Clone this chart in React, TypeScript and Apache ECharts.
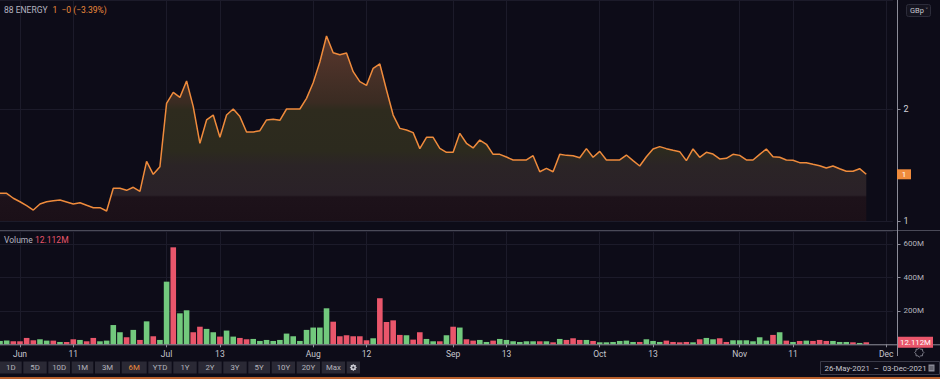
import React, { useEffect, useRef } from "react";
import * as echarts from "echarts";

const W = 940;
const H = 379;

// ---- calendar (UK trading days) ----
const START = "2021-05-26";
const END = "2021-12-02";
const HOLIDAYS = ["2021-05-31", "2021-08-30"];

function tradingDays(): string[] {
  const out: string[] = [];
  const d = new Date(START + "T00:00:00Z");
  const end = new Date(END + "T00:00:00Z");
  while (d <= end) {
    const wd = d.getUTCDay();
    const s = d.toISOString().slice(0, 10);
    if (wd !== 0 && wd !== 6 && !HOLIDAYS.includes(s)) out.push(s);
    d.setUTCDate(d.getUTCDate() + 1);
  }
  return out;
}
const categories = tradingDays();

const tickDates = [
  "2021-06-01", "2021-06-11", "2021-07-01", "2021-07-13", "2021-08-02", "2021-08-12",
  "2021-09-01", "2021-09-13", "2021-10-01", "2021-10-13", "2021-11-01", "2021-11-11", "2021-12-01",
];
const tickTexts = ["Jun", "11", "Jul", "13", "Aug", "12", "Sep", "13", "Oct", "13", "Nov", "11", "Dec"];

// ---- price (GBp), from 26-May-2021 ----
const prices = [
  1.247,
  1.247, 1.203, 1.172, 1.137, 1.098, 1.152, 1.172, 1.181, 1.187, 1.170,
  1.152, 1.163, 1.140, 1.119, 1.119, 1.089, 1.292, 1.292, 1.274, 1.301,
  1.265, 1.533, 1.417, 1.485, 2.051, 2.149, 2.104, 2.250, 2.021, 1.694,
  1.902, 1.946, 1.747, 1.946, 2.000, 1.932, 1.795, 1.795, 1.806, 1.902,
  1.908, 1.899, 2.000, 2.000, 2.000, 2.095, 2.235, 2.420, 2.652, 2.503,
  2.485, 2.500, 2.333, 2.244, 2.211, 2.363, 2.402, 2.170, 1.946, 1.827,
  1.812, 1.789, 1.646, 1.747, 1.747, 1.649, 1.613, 1.613, 1.783, 1.694,
  1.652, 1.723, 1.685, 1.595, 1.595, 1.571, 1.545, 1.545, 1.545, 1.583,
  1.440, 1.470, 1.440, 1.595, 1.586, 1.583, 1.565, 1.646, 1.569, 1.622,
  1.545, 1.545, 1.545, 1.589, 1.539, 1.491, 1.574, 1.643, 1.664, 1.646,
  1.631, 1.619, 1.539, 1.643, 1.569, 1.613, 1.598, 1.554, 1.560, 1.595,
  1.586, 1.545, 1.545, 1.595, 1.643, 1.574, 1.569, 1.545, 1.542, 1.521,
  1.521, 1.506, 1.494, 1.473, 1.491, 1.467, 1.444, 1.444, 1.467, 1.417,
];

// ---- volume (millions) ----
const volumes = [
  20,
  22, 18, 18, 38, 24, 30, 22, 22, 14, 14,
  30, 26, 18, 38, 18, 22, 115, 72, 42, 86,
  26, 137, 48, 26, 374, 579, 185, 203, 72, 105,
  92, 72, 46, 82, 46, 38, 30, 32, 20, 26,
  20, 26, 64, 48, 20, 86, 100, 100, 215, 135,
  48, 54, 48, 48, 24, 36, 275, 133, 143, 56,
  54, 28, 72, 32, 18, 18, 54, 105, 100, 30,
  22, 26, 14, 22, 32, 26, 18, 14, 18, 18,
  18, 18, 12, 32, 26, 36, 26, 26, 20, 12,
  12, 14, 20, 22, 14, 14, 30, 20, 14, 22,
  14, 12, 14, 12, 30, 38, 30, 36, 14, 24,
  24, 24, 18, 42, 22, 56, 72, 22, 14, 20,
  22, 20, 26, 20, 20, 14, 14, 12, 8, 12.112,
];
// bar direction: u = up (green), d = down (red)
const dirList = [
  "u",
  "u", "d", "d", "d", "d", "u", "u", "d", "u", "d",
  "d", "u", "d", "d", "u", "u", "u", "u", "d", "u",
  "d", "u", "d", "u", "u", "d", "u", "u", "d", "d",
  "u", "u", "d", "u", "u", "d", "d", "u", "u", "u",
  "u", "u", "u", "u", "u", "u", "u", "u", "u", "d",
  "d", "d", "d", "d", "d", "u", "d", "d", "d", "d",
  "u", "d", "d", "u", "u", "d", "u", "d", "u", "d",
  "d", "u", "u", "d", "u", "u", "u", "u", "u", "u",
  "d", "u", "d", "u", "d", "d", "d", "u", "d", "u",
  "u", "u", "u", "u", "u", "d", "u", "u", "u", "d",
  "d", "d", "d", "u", "d", "u", "u", "d", "d", "u",
  "u", "u", "u", "u", "u", "d", "u", "d", "u", "d",
  "u", "d", "d", "d", "u", "u", "u", "d", "u", "d",
];

const rangeButtons = ["1D", "5D", "10D", "1M", "3M", "6M", "YTD", "1Y", "2Y", "3Y", "5Y", "10Y", "20Y", "Max"];
const activeButton = "6M";

// ---- layout / style constants ----
const BG = "#0d0c18";
const GRID_LINE = "#1c1b2a";
const AXIS_GREY = "#8c8c98";
const TEXT = "#c6c6ce";
const ORANGE = "#ef8b3c";
const GREEN = "#72c97d";
const RED = "#e9566b";
const FONT = "Roboto, 'Noto Sans', sans-serif";
const STEP = 6.669;
const FIRST_X = 5.96 - STEP;
const LAST_X = FIRST_X + STEP * (categories.length - 1);
const PRICE_TOP = 0;
const PRICE_H = 221;
const PRICE_MIN = 1;
const PRICE_MAX = 1 + 221 / 112;
const VOL_TOP = 231;
const VOL_H = 113.3;
const VOL_MAX = (VOL_H / 33.5) * 200;
const BTN_X = [0, 23.3, 48.3, 71.7, 95, 121.7, 148.3, 173.3, 198.3, 223.3, 248.3, 271.7, 296.7, 321.7];
const BTN_W = [21.7, 23.4, 21.7, 21.6, 25, 25, 23.4, 23.4, 23.4, 23.4, 21.7, 23.3, 23.3, 23.3];

const showTick = (_i: number, v: string) => tickDates.includes(v);

function gearPoints(cx: number, cy: number, r1: number, r2: number, n: number) {
  const pts: number[][] = [];
  for (let i = 0; i < n * 2; i++) {
    const a = (Math.PI * i) / n;
    const r = i % 2 === 0 ? r1 : r2;
    pts.push([cx + r * Math.cos(a), cy + r * Math.sin(a)]);
  }
  return pts;
}

function txt(id: string, x: number, y: number, text: string, fill: string, size: number, align = "left", z = 50) {
  return {
    type: "text",
    id,
    x,
    y,
    z,
    silent: true,
    style: {
      text,
      fill,
      fontSize: size,
      fontFamily: FONT,
      textAlign: align,
      align,
      textVerticalAlign: "middle",
      verticalAlign: "middle",
    },
  };
}

export default function App() {
  const ref = useRef<HTMLDivElement>(null);
  useEffect(() => {
    const el = ref.current!;
    const chart = echarts.init(el, null, { renderer: "svg", width: W, height: H });

    const areaGradient = new echarts.graphic.LinearGradient(
      0, 36, 0, 221,
      [
        { offset: 0, color: "#5a382c" },
        { offset: 0.18, color: "#4a3128" },
        { offset: 0.36, color: "#3a2b22" },
        { offset: 0.4, color: "#2e2b1e" },
        { offset: 0.62, color: "#2c2a1e" },
        { offset: 0.7, color: "#2b2426" },
        { offset: 0.86, color: "#2a2128" },
        { offset: 0.87, color: "#1d121a" },
        { offset: 1, color: "#1b1018" },
      ],
      true
    );

    const graphics: any[] = [];
    // separators
    graphics.push({ type: "line", id: "sep", z: 40, shape: { x1: 0, y1: 230.5, x2: W, y2: 230.5 }, style: { stroke: "#4a4a58", lineWidth: 1 } });
    graphics.push({ type: "line", id: "base", z: 40, shape: { x1: 0, y1: 344.8, x2: W, y2: 344.8 }, style: { stroke: AXIS_GREY, lineWidth: 1 } });
    graphics.push({ type: "line", id: "raxis", z: 40, shape: { x1: 897.5, y1: 0, x2: 897.5, y2: 356 }, style: { stroke: AXIS_GREY, lineWidth: 1 } });
    // legends
    graphics.push(txt("lg1", 4, 10, "88 ENERGY", "#b4b4c0", 8.5));
    graphics.push(txt("lg2", 52.5, 10, "1  −0 (−3.39%)", ORANGE, 8.5));
    graphics.push(txt("lg3", 4, 240, "Volume", "#b4b4c0", 8.5));
    graphics.push(txt("lg4", 35, 240, "12.112M", RED, 8.5));
    // GBp button
    graphics.push({ type: "rect", id: "gbp", z: 45, shape: { x: 906.5, y: 4.5, width: 24, height: 12, r: 2 }, style: { fill: "#15141f", stroke: "#2c2c3a", lineWidth: 1 } });
    graphics.push(txt("gbpt", 910, 10.7, "GBp ˅", TEXT, 7.5));
    // toolbar
    rangeButtons.forEach((b, i) => {
      graphics.push({ type: "rect", id: "btn" + i, z: 45, shape: { x: BTN_X[i], y: 361.5, width: BTN_W[i], height: 12 }, style: { fill: "#2a2935" } });
      graphics.push(txt("btnt" + i, BTN_X[i] + BTN_W[i] / 2, 367.7, b, b === activeButton ? ORANGE : "#b4b4bc", 7.8, "center"));
    });
    graphics.push({ type: "rect", id: "btngear", z: 45, shape: { x: 346.7, y: 361.5, width: 13.3, height: 12 }, style: { fill: "#2a2935" } });
    graphics.push({ type: "polygon", id: "gear1", z: 46, shape: { points: gearPoints(353.3, 367.5, 3.6, 2.6, 8) }, style: { fill: "#c8c8d0" } });
    graphics.push({ type: "circle", id: "gear1c", z: 47, shape: { cx: 353.3, cy: 367.5, r: 1.1 }, style: { fill: "#2a2935" } });
    // gear near axis
    graphics.push({ type: "polygon", id: "gear2", z: 46, shape: { points: gearPoints(919.3, 352.5, 4.6, 3.6, 8) }, style: { fill: "none", stroke: "#8a8a96", lineWidth: 0.9 } });
    // date range box
    graphics.push({ type: "rect", id: "range", z: 45, shape: { x: 820.5, y: 361.5, width: 119, height: 13 }, style: { fill: "#0f0e1a", stroke: "#3a3a48", lineWidth: 1 } });
    graphics.push(txt("ranget", 824.5, 368.2, "26-May-2021  –  03-Dec-2021", TEXT, 7.8));
    graphics.push({ type: "rect", id: "cal", z: 46, shape: { x: 928.5, y: 364.5, width: 6, height: 7 }, style: { fill: "#8a8a96" } });
    graphics.push({ type: "line", id: "cal1", z: 47, shape: { x1: 929.5, y1: 367, x2: 933.5, y2: 367 }, style: { stroke: "#0f0e1a", lineWidth: 0.6 } });
    graphics.push({ type: "line", id: "cal2", z: 47, shape: { x1: 929.5, y1: 369, x2: 933.5, y2: 369 }, style: { stroke: "#0f0e1a", lineWidth: 0.6 } });
    // bottom accent line
    graphics.push({ type: "rect", id: "accent", z: 45, shape: { x: 0, y: 377, width: W, height: 2 }, style: { fill: "#b9602c" } });

    const option: any = {
      animation: false,
      backgroundColor: BG,
      textStyle: { fontFamily: FONT },
      grid: [
        { left: FIRST_X, right: W - LAST_X, top: PRICE_TOP, height: PRICE_H },
        { left: FIRST_X, right: W - LAST_X, top: VOL_TOP, height: VOL_H },
      ],
      xAxis: [
        {
          type: "category",
          gridIndex: 0,
          data: categories,
          boundaryGap: false,
          axisLine: { show: false },
          axisTick: { show: false },
          axisLabel: { show: false },
          splitLine: { show: true, interval: showTick, lineStyle: { color: GRID_LINE, width: 1 } },
        },
        {
          type: "category",
          gridIndex: 1,
          data: categories,
          boundaryGap: false,
          axisLine: { show: false },
          axisTick: { show: true, interval: showTick, length: 3, lineStyle: { color: AXIS_GREY } },
          axisLabel: {
            show: true,
            interval: showTick,
            color: TEXT,
            fontSize: 8.5,
            fontFamily: FONT,
            margin: 5,
            hideOverlap: false,
            formatter: (v: string) => {
              const k = tickDates.indexOf(v);
              return k >= 0 ? tickTexts[k] : "";
            },
          },
          splitLine: { show: true, interval: showTick, lineStyle: { color: GRID_LINE, width: 1 } },
        },
      ],
      yAxis: [
        {
          type: "value",
          gridIndex: 0,
          position: "right",
          offset: 4.6,
          min: PRICE_MIN,
          max: PRICE_MAX,
          interval: 1,
          axisLine: { show: false },
          axisTick: { show: true, length: 3, lineStyle: { color: AXIS_GREY } },
          axisLabel: {
            color: "#d2d2da",
            fontSize: 9,
            fontFamily: FONT,
            margin: 6,
            showMaxLabel: false,
            formatter: (v: number) => (Math.abs(v - Math.round(v)) < 1e-9 ? String(Math.round(v)) : ""),
          },
          splitLine: { show: true, lineStyle: { color: GRID_LINE, width: 1 } },
        },
        {
          type: "value",
          gridIndex: 1,
          position: "right",
          offset: 4.6,
          min: 0,
          max: VOL_MAX,
          interval: 200,
          axisLine: { show: false },
          axisTick: { show: true, length: 3, lineStyle: { color: AXIS_GREY } },
          axisLabel: {
            color: "#b4b4bc",
            fontSize: 8,
            fontFamily: FONT,
            margin: 6,
            showMaxLabel: false,
            formatter: (v: number) => (v > 0 && Math.abs(v % 200) < 1e-9 ? v + "M" : ""),
          },
          splitLine: { show: true, lineStyle: { color: GRID_LINE, width: 1 } },
        },
      ],
      series: [
        {
          type: "line",
          xAxisIndex: 0,
          yAxisIndex: 0,
          data: prices,
          symbol: "none",
          lineStyle: { color: ORANGE, width: 1.5 },
          areaStyle: { color: areaGradient, opacity: 1, origin: "start" },
          z: 5,
        },
        {
          type: "bar",
          xAxisIndex: 1,
          yAxisIndex: 1,
          barWidth: 5.6,
          data: volumes.map((v, i) => ({
            value: v,
            itemStyle: { color: dirList[i] === "u" ? GREEN : RED },
          })),
          z: 5,
        },
      ],
      graphic: { elements: graphics },
    };

    chart.setOption(option);

    const lastIdx = prices.length - 1;
    const py = chart.convertToPixel({ gridIndex: 0 }, [categories[lastIdx], prices[lastIdx]]) as number[];
    const vy = chart.convertToPixel({ gridIndex: 1 }, [categories[lastIdx], 0]) as number[];
    chart.setOption({
      graphic: {
        elements: [
          { type: "rect", id: "pbadge", z: 60, shape: { x: 897, y: py[1] - 5, width: 14, height: 10 }, style: { fill: ORANGE } },
          txt("pbadget", 904, py[1] + 0.3, String(Math.round(prices[lastIdx])), "#ffffff", 8, "center", 70),
          { type: "rect", id: "vbadge", z: 60, shape: { x: 898, y: vy[1] - 7.5, width: 35, height: 11 }, style: { fill: RED } },
          txt("vbadget", 915.5, vy[1] - 1.8, volumes[lastIdx].toFixed(3) + "M", "#ffffff", 7.8, "center", 70),
        ],
      },
    });

    return () => chart.dispose();
  }, []);
  return <div ref={ref} style={{ position: "fixed", left: 0, top: 0, width: W, height: H }} />;
}
